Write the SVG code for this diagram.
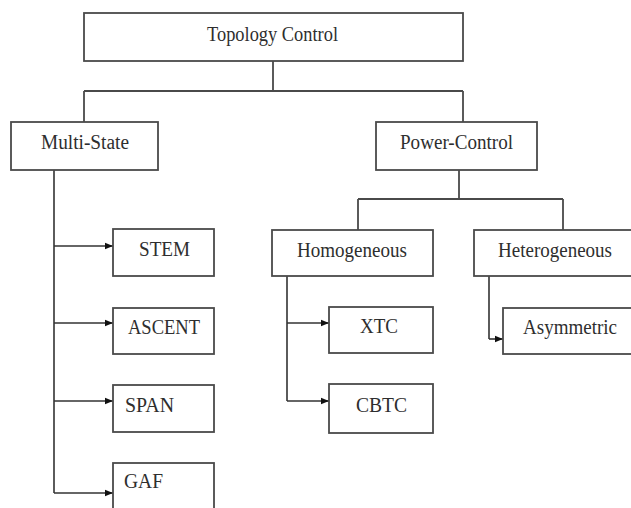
<svg xmlns="http://www.w3.org/2000/svg" width="631" height="508" viewBox="0 0 631 508">
<style>
.box{fill:#fff;stroke:#4a4a4a;stroke-width:1.8}
.lbl{font-family:"Liberation Serif","DejaVu Serif","Times New Roman",Times,serif;font-size:20px;fill:#2e2e2e}
.ln{fill:none;stroke:#4a4a4a;stroke-width:1.8}
.ar{fill:none;stroke:#333;stroke-width:1.6;marker-end:url(#ah)}
</style>
<defs>
<marker id="ah" viewBox="0 0 10 10" refX="10" refY="5" markerWidth="8" markerHeight="8" markerUnits="userSpaceOnUse" orient="auto">
<path d="M0,1 L10,5 L0,9 Z" fill="#111"/>
</marker>
</defs>
<rect width="631" height="508" fill="#fff"/>
<g id="connectors">
<path class="ln" d="M273,61 V91 M84,91 H463 M84,91 V122 M463,91 V122"/>
<path class="ln" d="M54,170 V493"/>
<path class="ar" d="M54,246 H113"/>
<path class="ar" d="M54,323 H113"/>
<path class="ar" d="M54,401 H113"/>
<path class="ar" d="M54,493 H113"/>
<path class="ln" d="M459,170 V199 M358,199 H563 M358,199 V230 M563,199 V230"/>
<path class="ln" d="M287,276 V401"/>
<path class="ar" d="M287,323 H329"/>
<path class="ar" d="M287,401 H329"/>
<path class="ln" d="M489,276 V339"/>
<path class="ar" d="M489,339 H503"/>
</g>
<g id="topology-control"><rect class="box" x="84" y="13" width="379" height="48"/><text class="lbl" x="207" y="41" textLength="131" lengthAdjust="spacingAndGlyphs">Topology Control</text></g>
<g id="multi-state"><rect class="box" x="11" y="122" width="147" height="48"/><text class="lbl" x="41" y="149" textLength="88" lengthAdjust="spacingAndGlyphs">Multi-State</text></g>
<g id="power-control"><rect class="box" x="376" y="122" width="161" height="48"/><text class="lbl" x="400" y="149" textLength="113" lengthAdjust="spacingAndGlyphs">Power-Control</text></g>
<g id="stem"><rect class="box" x="113" y="229" width="101" height="47"/><text class="lbl" x="139" y="256" textLength="51" lengthAdjust="spacingAndGlyphs">STEM</text></g>
<g id="ascent"><rect class="box" x="113" y="308" width="101" height="46"/><text class="lbl" x="128" y="334" textLength="72" lengthAdjust="spacingAndGlyphs">ASCENT</text></g>
<g id="span"><rect class="box" x="113" y="385" width="101" height="47"/><text class="lbl" x="125" y="412" textLength="49" lengthAdjust="spacingAndGlyphs">SPAN</text></g>
<g id="gaf"><rect class="box" x="113" y="463" width="101" height="60"/><text class="lbl" x="124" y="488" textLength="39" lengthAdjust="spacingAndGlyphs">GAF</text></g>
<g id="homogeneous"><rect class="box" x="272" y="230" width="161" height="46"/><text class="lbl" x="297" y="257" textLength="110" lengthAdjust="spacingAndGlyphs">Homogeneous</text></g>
<g id="heterogeneous"><rect class="box" x="474" y="230" width="170" height="46"/><text class="lbl" x="498" y="257" textLength="114" lengthAdjust="spacingAndGlyphs">Heterogeneous</text></g>
<g id="xtc"><rect class="box" x="329" y="307" width="104" height="46"/><text class="lbl" x="360" y="333" textLength="38" lengthAdjust="spacingAndGlyphs">XTC</text></g>
<g id="cbtc"><rect class="box" x="329" y="384" width="104" height="49"/><text class="lbl" x="356" y="412" textLength="51" lengthAdjust="spacingAndGlyphs">CBTC</text></g>
<g id="asymmetric"><rect class="box" x="503" y="308" width="140" height="46"/><text class="lbl" x="523" y="334" textLength="94" lengthAdjust="spacingAndGlyphs">Asymmetric</text></g>
</svg>
